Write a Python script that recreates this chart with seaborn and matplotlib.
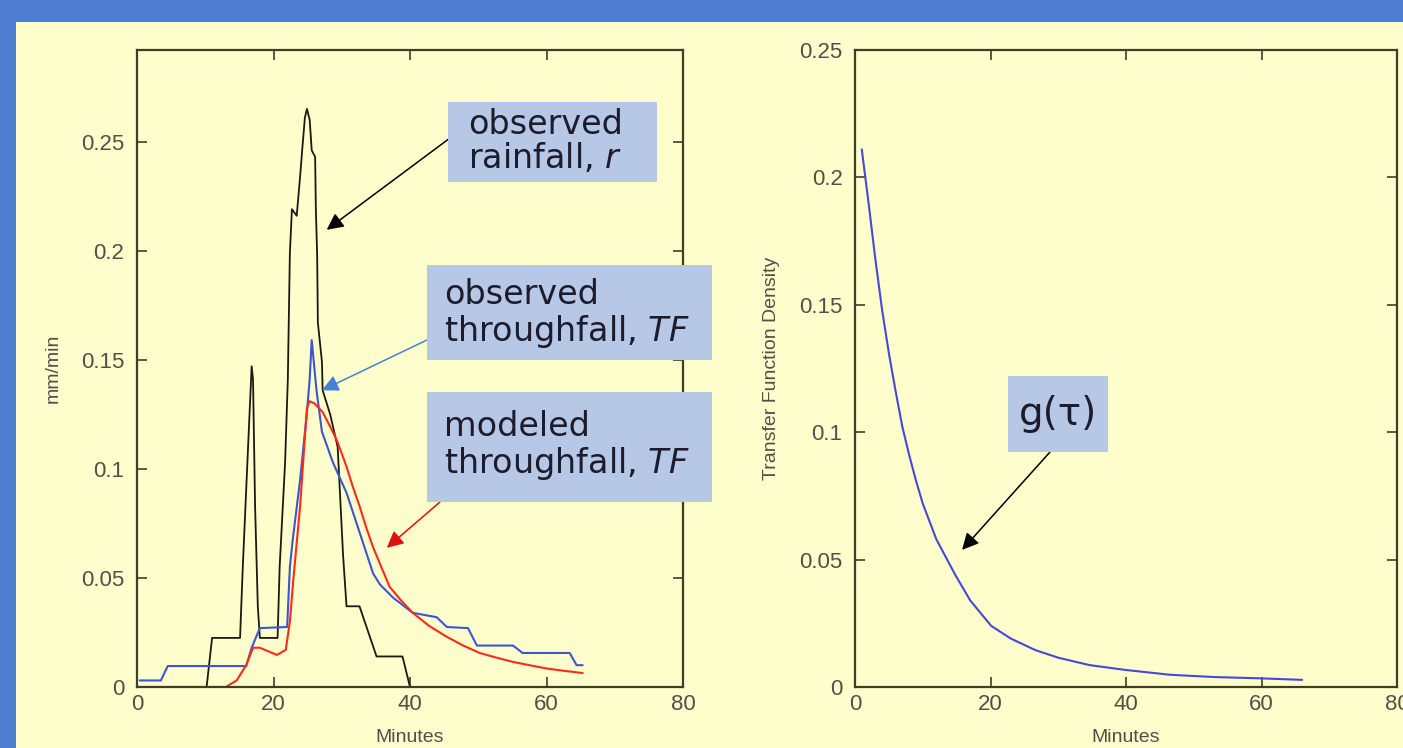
import numpy as np
import pandas as pd
import matplotlib
matplotlib.use("Agg")
import matplotlib.pyplot as plt
from matplotlib.patches import Rectangle
import seaborn as sns

# ---------------- data ----------------
rain_x = [10.2, 11.0, 15.1, 15.5, 16.5, 16.8, 17.0, 17.3, 17.7, 18.0, 20.6, 20.9, 21.7, 22.1,
          22.4, 22.7, 23.4, 23.9, 24.2, 24.6, 24.9, 25.3, 25.6, 26.1, 26.2, 26.4, 26.5, 27.1,
          27.2, 28.3, 29.4, 30.2, 30.7, 32.6, 35.1, 38.9, 40.0]
rain_y = [0.0, 0.0225, 0.0225, 0.055, 0.126, 0.147, 0.141, 0.083, 0.037, 0.0225, 0.0225, 0.055,
          0.103, 0.141, 0.199, 0.219, 0.216, 0.234, 0.246, 0.261, 0.265, 0.26, 0.246, 0.243,
          0.22, 0.197, 0.167, 0.149, 0.136, 0.125, 0.11, 0.06, 0.037, 0.037, 0.014, 0.014, 0.0]

obs_tf_x = [0.4, 3.5, 4.5, 16.0, 16.8, 18.0, 22.0, 22.4, 22.8, 23.9, 24.9, 25.3, 25.6, 26.3,
            27.1, 28.7, 30.7, 32.6, 34.6, 35.6, 37.5, 40.4, 43.9, 45.4, 48.5, 49.8, 55.1,
            56.5, 63.4, 64.4, 65.3]
obs_tf_y = [0.003, 0.003, 0.0096, 0.0096, 0.018, 0.027, 0.0275, 0.055, 0.067, 0.095, 0.126,
            0.141, 0.159, 0.136, 0.117, 0.103, 0.089, 0.071, 0.052, 0.047, 0.041, 0.034,
            0.032, 0.0275, 0.027, 0.019, 0.019, 0.0156, 0.0156, 0.010, 0.010]

mod_tf_x = [0.0, 13.0, 14.6, 16.0, 17.0, 18.0, 20.5, 21.8, 22.4, 22.9, 23.9, 24.5, 24.9, 25.3,
            26.0, 27.2, 28.2, 29.3, 30.7, 31.6, 32.6, 33.6, 34.6, 35.8, 37.0, 38.6, 40.4,
            42.8, 45.4, 47.8, 50.2, 52.6, 55.1, 57.5, 60.0, 62.6, 65.3]
mod_tf_y = [0.0, 0.0, 0.003, 0.010, 0.018, 0.018, 0.0147, 0.017, 0.030, 0.049, 0.083, 0.110,
            0.128, 0.131, 0.130, 0.126, 0.120, 0.113, 0.101, 0.092, 0.083, 0.073, 0.064,
            0.055, 0.046, 0.040, 0.034, 0.028, 0.023, 0.019, 0.0156, 0.0135, 0.0115,
            0.0100, 0.0085, 0.0074, 0.0064]

g_x = [1.0, 2.0, 3.0, 4.0, 5.0, 6.0, 7.0, 8.0, 9.0, 10.0, 12.0, 14.8, 17.0, 20.1, 23.0,
       26.6, 30.0, 34.6, 39.9, 46.5, 53.1, 59.8, 66.0]
g_y = [0.211, 0.190, 0.168, 0.148, 0.131, 0.116, 0.102, 0.091, 0.081, 0.072, 0.058, 0.044,
       0.034, 0.024, 0.019, 0.0145, 0.0115, 0.0086, 0.0067, 0.0048, 0.0039, 0.0034, 0.0028]

x_ticks = [0, 20, 40, 60, 80]
left_y_ticks = [0, 0.05, 0.1, 0.15, 0.2, 0.25]
left_y_labels = ["0", "0.05", "0.1", "0.15", "0.2", "0.25"]
right_y_ticks = [0, 0.05, 0.1, 0.15, 0.2, 0.25]
right_y_labels = ["0", "0.05", "0.1", "0.15", "0.2", "0.25"]

# ---------------- style ----------------
sns.set_style("ticks")
plt.rcParams["font.family"] = ["Liberation Sans", "DejaVu Sans"]

BLUE_BG = "#4f7dd2"
PANEL = "#fefdcc"
BOX = "#b7c7e6"
SPINE = "#3f3f28"
TICKTXT = "#505048"
TXT = "#1c1c2c"

W, H = 1403, 748
fig = plt.figure(figsize=(W / 100, H / 100), dpi=100, facecolor=BLUE_BG)
fig.add_artist(Rectangle((16 / W, 0), 1, (H - 22) / H, transform=fig.transFigure,
                         facecolor=PANEL, edgecolor="none", zorder=0))

ax1 = fig.add_axes([137 / W, 1 - 687 / H, (683 - 137) / W, (687 - 50) / H])
ax2 = fig.add_axes([855 / W, 1 - 687 / H, (1397 - 855) / W, (687 - 50) / H])

df_r = pd.DataFrame({"Minutes": rain_x, "v": rain_y})
df_o = pd.DataFrame({"Minutes": obs_tf_x, "v": obs_tf_y})
df_m = pd.DataFrame({"Minutes": mod_tf_x, "v": mod_tf_y})
df_g = pd.DataFrame({"Minutes": g_x, "v": g_y})

sns.lineplot(data=df_r, x="Minutes", y="v", ax=ax1, color="#1a1a10", lw=1.3,
             estimator=None, sort=False)
sns.lineplot(data=df_o, x="Minutes", y="v", ax=ax1, color="#3c55d2", lw=1.5,
             estimator=None, sort=False)
sns.lineplot(data=df_m, x="Minutes", y="v", ax=ax1, color="#ff2a1a", lw=1.5,
             estimator=None, sort=False)
sns.lineplot(data=df_g, x="Minutes", y="v", ax=ax2, color="#4848d8", lw=1.5,
             estimator=None, sort=False)

for ax, yt, yl, ylim, ylabel in [
        (ax1, left_y_ticks, left_y_labels, (0, 0.292), "mm/min"),
        (ax2, right_y_ticks, right_y_labels, (0, 0.25), "Transfer Function Density")]:
    ax.set_facecolor("none")
    ax.set_xlim(0, 80)
    ax.set_ylim(*ylim)
    ax.set_xticks(x_ticks)
    ax.set_xticklabels([str(t) for t in x_ticks])
    ax.set_yticks(yt)
    ax.set_yticklabels(yl)
    ax.tick_params(direction="in", length=7, width=1.2, color=SPINE, top=True, right=True,
                   labelsize=16, labelcolor=TICKTXT, pad=5)
    ax.tick_params(axis="y", pad=9)
    for s in ax.spines.values():
        s.set_color(SPINE)
        s.set_linewidth(1.6)
        s.set_visible(True)
    ax.set_xlabel("Minutes", fontsize=14, color=TICKTXT, labelpad=10)
    ax.set_ylabel(ylabel, fontsize=14, color=TICKTXT, labelpad=14)

# ---------------- annotation boxes ----------------
def px_box(x0, y0, x1, y1):
    fig.add_artist(Rectangle((x0 / W, 1 - y1 / H), (x1 - x0) / W, (y1 - y0) / H,
                             transform=fig.transFigure, facecolor=BOX, edgecolor="none",
                             zorder=5))

def px_text(x, y, s, **kw):
    fig.text(x / W, 1 - y / H, s, zorder=6, color=TXT, family=["DejaVu Sans"], **kw)

def px_arrow(ax, xy, tail, color):
    ax.annotate("", xy=xy, xycoords="data", xytext=(tail[0] / W, 1 - tail[1] / H),
                textcoords="figure fraction",
                arrowprops=dict(arrowstyle="-|>,head_length=1.0,head_width=0.5",
                                color=color, lw=1.1, shrinkA=0, shrinkB=0),
                annotation_clip=False, zorder=7)

px_box(448, 102, 657, 182)
px_text(468, 142, "observed\nrainfall, $\\mathit{r}$", fontsize=24, va="center", ha="left",
        linespacing=1.0)
px_box(427, 265, 712, 360)
px_text(444, 314, "observed\nthroughfall, $\\mathit{TF}$", fontsize=24, va="center",
        ha="left", linespacing=1.05)
px_box(427, 392, 712, 502)
px_text(444, 446, "modeled\nthroughfall, $\\mathit{TF}$", fontsize=24, va="center",
        ha="left", linespacing=1.05)
px_box(1008, 376, 1108, 452)
px_text(1058, 414, "g(τ)", fontsize=28, va="center", ha="center")

px_arrow(ax1, (27.8, 0.2096), (450, 138), "black")
px_arrow(ax1, (27.1, 0.136), (427, 340), "#4a7fd6")
px_arrow(ax1, (36.6, 0.0638), (440, 502), "#e01010")
px_arrow(ax2, (15.8, 0.0538), (1050, 452), "black")

fig.savefig("out.png", dpi=100, facecolor=BLUE_BG)
